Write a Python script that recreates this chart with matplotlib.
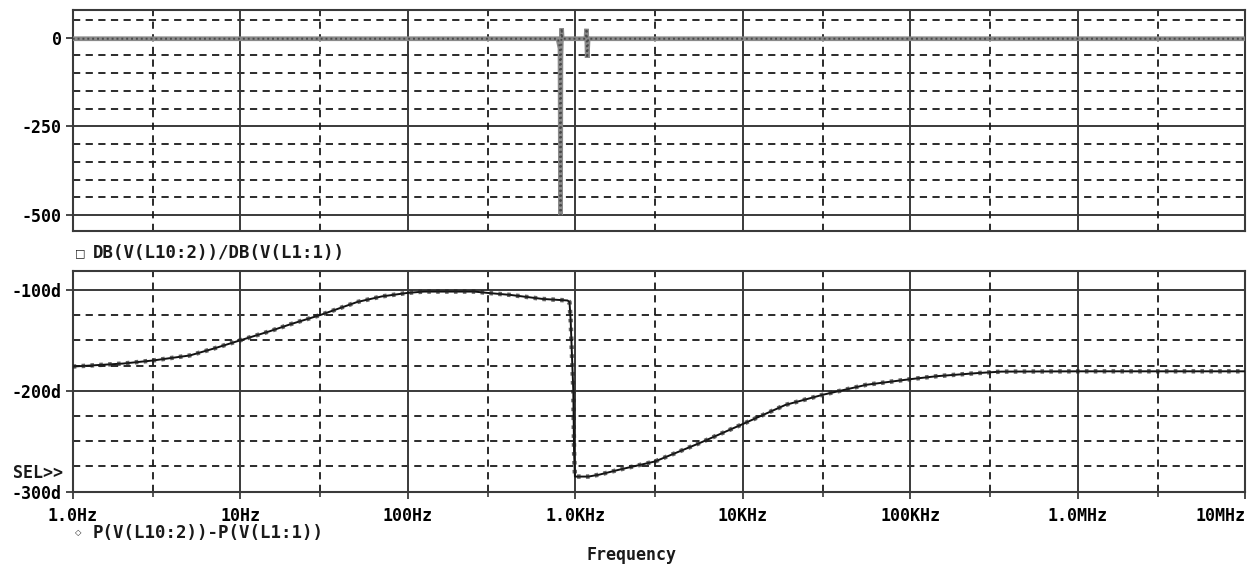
import numpy as np
import matplotlib.pyplot as plt
from matplotlib.ticker import FixedLocator, NullFormatter

# ratio of the dB magnitudes, DB(V(L10:2))/DB(V(L1:1))
db_freq = [1, 700, 790, 812, 818, 822, 826, 830, 836, 1100, 1160, 1170, 1180, 1195, 1e7]
db_ratio = [-3, -3, -3, -30, -500, -60, -20, 26, -3, -3, -3, 25, -57, -3, -3]

# phase difference, P(V(L10:2))-P(V(L1:1)) in degrees
ph_freq = [1, 2, 3, 5, 7, 10, 15, 20, 30, 50, 70, 100, 125, 250, 300, 410, 640, 900,
           925, 940, 950, 975, 985, 997, 1000, 1200, 1400, 1850, 3000, 5500, 1e4,
           1.8e4, 3e4, 5.5e4, 1e5, 1.45e5, 2.5e5, 3.5e5, 1e6, 1e7]
ph_deg = [-176, -173, -170, -165, -158, -150, -141, -134, -125, -112, -106.5, -103,
          -101.7, -101.7, -103, -105, -109, -110.5, -112, -130, -151, -200, -260,
          -285, -285, -285, -283, -278, -270, -252, -233, -214, -204, -194, -188.5,
          -185.5, -182.5, -181, -180.7, -180.7]

decades = [1, 10, 100, 1e3, 1e4, 1e5, 1e6, 1e7]
dec_labels = ['1.0Hz', '10Hz', '100Hz', '1.0KHz', '10KHz', '100KHz', '1.0MHz', '10MHz']
threes = [3, 30, 300, 3e3, 3e4, 3e5, 3e6]

mono = dict(family='DejaVu Sans Mono', weight='bold')
ink = '#1a1a1a'
frame = '#3a3a3a'

fig = plt.figure(figsize=(12.56, 5.65), dpi=100)
left, width = 0.0579, 0.9334
ax1 = fig.add_axes([left, 0.5917, width, 0.3906])
ax2 = fig.add_axes([left, 0.1297, width, 0.3912])


def grid(ax, solid, dashed):
    for y in solid:
        ax.axhline(y, color=frame, lw=1.4, zorder=1)
    for y in dashed:
        ax.axhline(y, color=ink, lw=1.3, ls=(0, (4, 3)), zorder=1)
    for x in decades[1:-1]:
        ax.axvline(x, color=frame, lw=1.4, zorder=1)
    for x in threes:
        ax.axvline(x, color=ink, lw=1.3, ls=(0, (4, 3)), zorder=1)


for ax in (ax1, ax2):
    ax.set_xscale('log')
    ax.set_xlim(1, 1e7)
    for s in ax.spines.values():
        s.set_color(frame)
        s.set_linewidth(1.5)
    ax.tick_params(axis='y', direction='out', length=5, width=1.3, color=frame,
                   pad=3, labelsize=12)
    ax.xaxis.set_minor_formatter(NullFormatter())

# upper plot
grid(ax1, [-250, -500], [50, -50, -100, -150, -200, -300, -350, -400, -450])
ax1.set_ylim(-544, 78)
ax1.set_yticks([0, -250, -500])
ax1.set_yticklabels(['0', '-250', '-500'], **mono)
ax1.tick_params(axis='x', which='both', length=0, labelbottom=False)
ax1.plot(db_freq, db_ratio, color='#8a8a8a', lw=3.4, solid_joinstyle='miter', zorder=3)
ax1.plot(db_freq, db_ratio, color='#4a4a4a', lw=1.4, ls=(0, (1, 1.5)), zorder=4)

# lower plot
grid(ax2, [-100, -200], [-125, -150, -175, -225, -250, -275])
ax2.set_ylim(-300, -81)
ax2.set_yticks([-100, -200, -300])
ax2.set_yticklabels(['-100d', '-200d', '-300d'], **mono)
ax2.xaxis.set_major_locator(FixedLocator(decades))
ax2.xaxis.set_minor_locator(FixedLocator(threes))
ax2.set_xticklabels(dec_labels, **mono)
ax2.tick_params(axis='x', which='major', direction='out', length=5, width=1.3,
                color=frame, pad=6, labelsize=12)
ax2.tick_params(axis='x', which='minor', direction='out', length=3.5, width=1.2,
                color=frame)
ax2.get_xticklabels()[-1].set_ha('right')
ax2.plot(ph_freq, ph_deg, color='#111111', lw=1.4, zorder=3)
ax2.plot(ph_freq, ph_deg, color='#222222', lw=3.2, ls=(0, (0.8, 1.2)), alpha=0.7, zorder=3)

# trace names and labels
fig.text(80 / 1256, 1 - 253 / 565, '\u25a1', fontsize=8, color=ink, va='center', ha='center')
fig.text(93 / 1256, 1 - 253 / 565, 'DB(V(L10:2))/DB(V(L1:1))', fontsize=12.5,
         color=ink, va='center', **mono)
fig.text(78 / 1256, 1 - 533 / 565, '\u25c7', fontsize=6, color=ink, va='center', ha='center')
fig.text(93 / 1256, 1 - 533 / 565, 'P(V(L10:2))-P(V(L1:1))', fontsize=12.5,
         color=ink, va='center', **mono)
fig.text(63 / 1256, 1 - 473 / 565, 'SEL>>', fontsize=12, color=ink, va='center',
         ha='right', **mono)
fig.text(631 / 1256, 1 - 555 / 565, 'Frequency', fontsize=12, color=ink, va='center',
         ha='center', **mono)

fig.savefig('out.png', dpi=100, facecolor='white')
